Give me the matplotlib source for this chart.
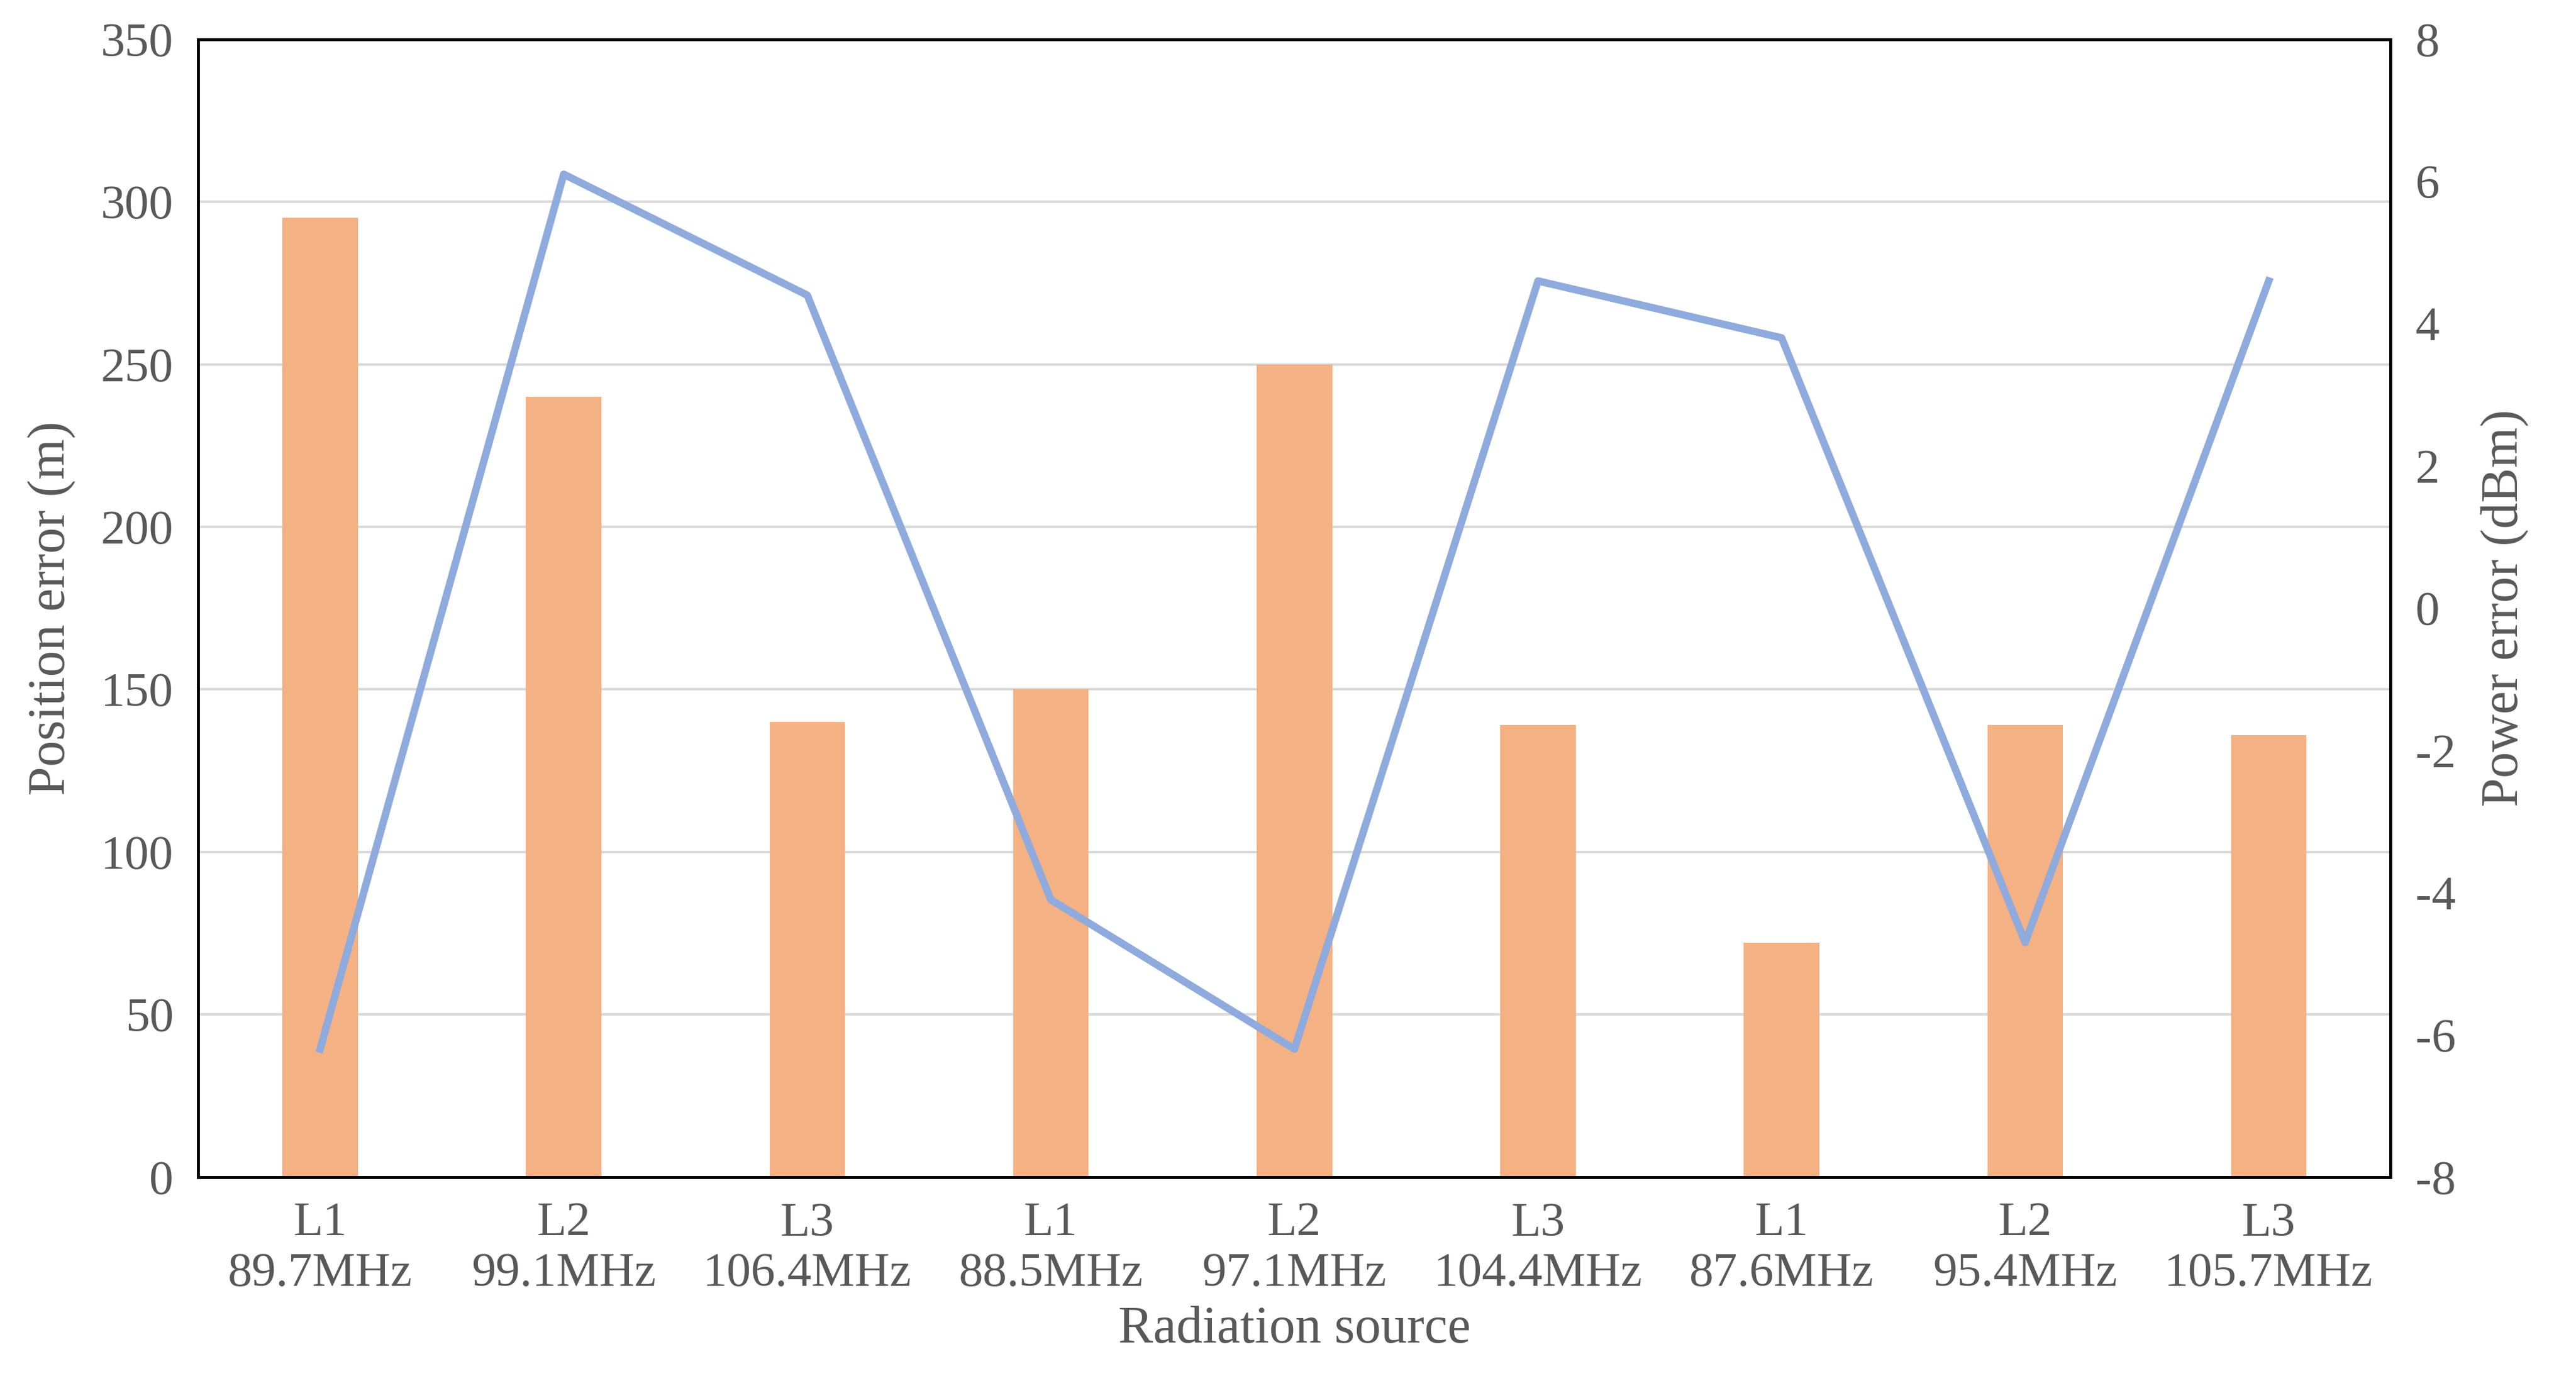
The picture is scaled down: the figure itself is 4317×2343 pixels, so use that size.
import matplotlib.pyplot as plt
import numpy as np

plt.rcParams['font.family'] = ['Liberation Serif', 'DejaVu Serif']
plt.rcParams['axes.unicode_minus'] = False

labels = ["L1\n89.7MHz", "L2\n99.1MHz", "L3\n106.4MHz", "L1\n88.5MHz", "L2\n97.1MHz",
          "L3\n104.4MHz", "L1\n87.6MHz", "L2\n95.4MHz", "L3\n105.7MHz"]
position_error = [295, 240, 140, 150, 250, 139, 72, 139, 136]
power_error = [-6.2, 6.1, 4.4, -4.1, -6.2, 4.6, 3.8, -4.7, 4.6]

fig = plt.figure(figsize=(4317 / 300, 2343 / 300), dpi=300)
ax = fig.add_axes([0.077, 0.158, 0.851, 0.814])
x = np.arange(len(labels))

ax.bar(x, position_error, width=0.31, color="#F4B183", zorder=2)
ax.set_ylim(0, 350)
ax.set_yticks(range(0, 351, 50))
ax.set_xlim(-0.5, len(labels) - 0.5)
ax.set_xticks(x)
ax.set_xticklabels(labels)
ax.grid(axis="y", color="#D9D9D9", linewidth=1.0, zorder=0)
ax.set_ylabel("Position error (m)", fontsize=21, color="#595959", labelpad=10)
ax.set_xlabel("Radiation source", fontsize=21, color="#595959", labelpad=4)

ax2 = ax.twinx()
ax2.plot(x, power_error, color="#8FAADC", linewidth=3)
ax2.set_ylim(-8, 8)
ax2.set_yticks(range(-8, 9, 2))
ax2.set_ylabel("Power error (dBm)", fontsize=21, color="#595959", labelpad=10)

for a in (ax, ax2):
    a.tick_params(labelsize=19.5, labelcolor="#595959", length=0, pad=10)
    for s in a.spines.values():
        s.set_color("black")
        s.set_linewidth(1.2)

fig.savefig("out.png", dpi=300)
